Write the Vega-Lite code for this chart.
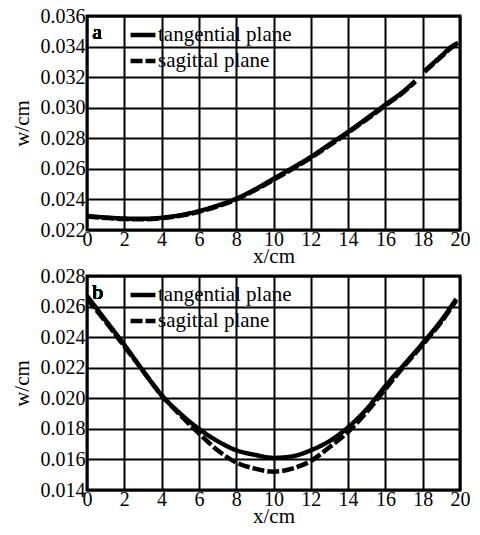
{
  "$schema": "https://vega.github.io/schema/vega-lite/v6.json",
  "background": "white",
  "padding": {"left": 9, "top": 4, "right": 3, "bottom": 3},
  "spacing": 46,
  "bounds": "flush",
  "config": {
    "font": "Liberation Serif",
    "view": {"stroke": "black", "strokeWidth": 3},
    "axis": {
      "grid": true, "gridColor": "black", "gridWidth": 2, "gridOpacity": 1,
      "domain": false, "ticks": false,
      "labelFont": "Liberation Serif", "labelFontSize": 20, "labelColor": "black", "labelPadding": 2,
      "labelOverlap": false, "labelFlush": false, "labelBound": false,
      "titleFont": "Liberation Serif", "titleFontSize": 21, "titleFontWeight": "normal", "titleColor": "black"
    },
    "axisX": {"labelPadding": -1},
    "legend": {
      "orient": "none", "legendX": 41, "legendY": 4, "padding": 0,
      "symbolType": "stroke", "symbolStrokeWidth": 4.5, "symbolSize": 620, "symbolStrokeColor": "black",
      "labelFont": "Liberation Serif", "labelFontSize": 21, "labelColor": "black", "labelOffset": 0, "labelLimit": 300,
      "rowPadding": 1, "title": null
    }
  },
  "datasets": {
    "curves": [
      {"panel": "a", "series": "tangential plane", "seg": 1, "x": 0, "w": 0.02292},
      {"panel": "a", "series": "tangential plane", "seg": 1, "x": 1, "w": 0.02282},
      {"panel": "a", "series": "tangential plane", "seg": 1, "x": 2, "w": 0.02275},
      {"panel": "a", "series": "tangential plane", "seg": 1, "x": 3, "w": 0.02273},
      {"panel": "a", "series": "tangential plane", "seg": 1, "x": 4, "w": 0.02280},
      {"panel": "a", "series": "tangential plane", "seg": 1, "x": 5, "w": 0.02297},
      {"panel": "a", "series": "tangential plane", "seg": 1, "x": 6, "w": 0.02324},
      {"panel": "a", "series": "tangential plane", "seg": 1, "x": 7, "w": 0.02360},
      {"panel": "a", "series": "tangential plane", "seg": 1, "x": 8, "w": 0.02405},
      {"panel": "a", "series": "tangential plane", "seg": 1, "x": 9, "w": 0.02465},
      {"panel": "a", "series": "tangential plane", "seg": 1, "x": 10, "w": 0.02535},
      {"panel": "a", "series": "tangential plane", "seg": 1, "x": 11, "w": 0.02605},
      {"panel": "a", "series": "tangential plane", "seg": 1, "x": 12, "w": 0.02678},
      {"panel": "a", "series": "tangential plane", "seg": 1, "x": 13, "w": 0.02760},
      {"panel": "a", "series": "tangential plane", "seg": 1, "x": 14, "w": 0.02842},
      {"panel": "a", "series": "tangential plane", "seg": 1, "x": 15, "w": 0.02930},
      {"panel": "a", "series": "tangential plane", "seg": 1, "x": 16, "w": 0.03020},
      {"panel": "a", "series": "tangential plane", "seg": 1, "x": 17, "w": 0.03110},
      {"panel": "a", "series": "tangential plane", "seg": 1, "x": 17.6, "w": 0.03175},
      {"panel": "a", "series": "tangential plane", "seg": 2, "x": 18.1, "w": 0.03240},
      {"panel": "a", "series": "tangential plane", "seg": 2, "x": 18.6, "w": 0.03295},
      {"panel": "a", "series": "tangential plane", "seg": 2, "x": 19.1, "w": 0.03350},
      {"panel": "a", "series": "tangential plane", "seg": 2, "x": 19.5, "w": 0.03395},
      {"panel": "a", "series": "tangential plane", "seg": 2, "x": 19.9, "w": 0.03425},
      {"panel": "a", "series": "sagittal plane", "seg": 1, "x": 0, "w": 0.02288},
      {"panel": "a", "series": "sagittal plane", "seg": 1, "x": 1, "w": 0.02279},
      {"panel": "a", "series": "sagittal plane", "seg": 1, "x": 2, "w": 0.02272},
      {"panel": "a", "series": "sagittal plane", "seg": 1, "x": 3, "w": 0.02270},
      {"panel": "a", "series": "sagittal plane", "seg": 1, "x": 4, "w": 0.02277},
      {"panel": "a", "series": "sagittal plane", "seg": 1, "x": 5, "w": 0.02293},
      {"panel": "a", "series": "sagittal plane", "seg": 1, "x": 6, "w": 0.02319},
      {"panel": "a", "series": "sagittal plane", "seg": 1, "x": 7, "w": 0.02355},
      {"panel": "a", "series": "sagittal plane", "seg": 1, "x": 8, "w": 0.02400},
      {"panel": "a", "series": "sagittal plane", "seg": 1, "x": 9, "w": 0.02460},
      {"panel": "a", "series": "sagittal plane", "seg": 1, "x": 10, "w": 0.02528},
      {"panel": "a", "series": "sagittal plane", "seg": 1, "x": 11, "w": 0.02598},
      {"panel": "a", "series": "sagittal plane", "seg": 1, "x": 12, "w": 0.02672},
      {"panel": "a", "series": "sagittal plane", "seg": 1, "x": 13, "w": 0.02753},
      {"panel": "a", "series": "sagittal plane", "seg": 1, "x": 14, "w": 0.02836},
      {"panel": "a", "series": "sagittal plane", "seg": 1, "x": 15, "w": 0.02924},
      {"panel": "a", "series": "sagittal plane", "seg": 1, "x": 16, "w": 0.03014},
      {"panel": "a", "series": "sagittal plane", "seg": 1, "x": 17, "w": 0.03105},
      {"panel": "a", "series": "sagittal plane", "seg": 1, "x": 17.6, "w": 0.03170},
      {"panel": "a", "series": "sagittal plane", "seg": 2, "x": 18.1, "w": 0.03235},
      {"panel": "a", "series": "sagittal plane", "seg": 2, "x": 18.6, "w": 0.03290},
      {"panel": "a", "series": "sagittal plane", "seg": 2, "x": 19.1, "w": 0.03345},
      {"panel": "a", "series": "sagittal plane", "seg": 2, "x": 19.5, "w": 0.03390},
      {"panel": "a", "series": "sagittal plane", "seg": 2, "x": 19.9, "w": 0.03420},
      {"panel": "b", "series": "tangential plane", "seg": 1, "x": 0, "w": 0.0267},
      {"panel": "b", "series": "tangential plane", "seg": 1, "x": 1, "w": 0.0251},
      {"panel": "b", "series": "tangential plane", "seg": 1, "x": 2, "w": 0.0235},
      {"panel": "b", "series": "tangential plane", "seg": 1, "x": 3, "w": 0.0218},
      {"panel": "b", "series": "tangential plane", "seg": 1, "x": 4, "w": 0.0202},
      {"panel": "b", "series": "tangential plane", "seg": 1, "x": 5, "w": 0.0190},
      {"panel": "b", "series": "tangential plane", "seg": 1, "x": 6, "w": 0.0180},
      {"panel": "b", "series": "tangential plane", "seg": 1, "x": 7, "w": 0.0172},
      {"panel": "b", "series": "tangential plane", "seg": 1, "x": 8, "w": 0.0166},
      {"panel": "b", "series": "tangential plane", "seg": 1, "x": 9, "w": 0.0163},
      {"panel": "b", "series": "tangential plane", "seg": 1, "x": 10, "w": 0.0161},
      {"panel": "b", "series": "tangential plane", "seg": 1, "x": 11, "w": 0.0162},
      {"panel": "b", "series": "tangential plane", "seg": 1, "x": 12, "w": 0.0166},
      {"panel": "b", "series": "tangential plane", "seg": 1, "x": 13, "w": 0.0172},
      {"panel": "b", "series": "tangential plane", "seg": 1, "x": 14, "w": 0.0181},
      {"panel": "b", "series": "tangential plane", "seg": 1, "x": 15, "w": 0.0193},
      {"panel": "b", "series": "tangential plane", "seg": 1, "x": 16, "w": 0.0208},
      {"panel": "b", "series": "tangential plane", "seg": 1, "x": 17, "w": 0.0222},
      {"panel": "b", "series": "tangential plane", "seg": 1, "x": 18, "w": 0.0236},
      {"panel": "b", "series": "tangential plane", "seg": 1, "x": 19, "w": 0.0251},
      {"panel": "b", "series": "tangential plane", "seg": 1, "x": 19.8, "w": 0.0265},
      {"panel": "b", "series": "sagittal plane", "seg": 1, "x": 0, "w": 0.0265},
      {"panel": "b", "series": "sagittal plane", "seg": 1, "x": 1, "w": 0.0250},
      {"panel": "b", "series": "sagittal plane", "seg": 1, "x": 2, "w": 0.0234},
      {"panel": "b", "series": "sagittal plane", "seg": 1, "x": 3, "w": 0.0218},
      {"panel": "b", "series": "sagittal plane", "seg": 1, "x": 4, "w": 0.0202},
      {"panel": "b", "series": "sagittal plane", "seg": 1, "x": 5, "w": 0.0189},
      {"panel": "b", "series": "sagittal plane", "seg": 1, "x": 6, "w": 0.0177},
      {"panel": "b", "series": "sagittal plane", "seg": 1, "x": 7, "w": 0.0166},
      {"panel": "b", "series": "sagittal plane", "seg": 1, "x": 8, "w": 0.0158},
      {"panel": "b", "series": "sagittal plane", "seg": 1, "x": 9, "w": 0.0154},
      {"panel": "b", "series": "sagittal plane", "seg": 1, "x": 10, "w": 0.0152},
      {"panel": "b", "series": "sagittal plane", "seg": 1, "x": 11, "w": 0.0154},
      {"panel": "b", "series": "sagittal plane", "seg": 1, "x": 12, "w": 0.0159},
      {"panel": "b", "series": "sagittal plane", "seg": 1, "x": 13, "w": 0.0168},
      {"panel": "b", "series": "sagittal plane", "seg": 1, "x": 14, "w": 0.0178},
      {"panel": "b", "series": "sagittal plane", "seg": 1, "x": 15, "w": 0.0191},
      {"panel": "b", "series": "sagittal plane", "seg": 1, "x": 16, "w": 0.0206},
      {"panel": "b", "series": "sagittal plane", "seg": 1, "x": 17, "w": 0.0221},
      {"panel": "b", "series": "sagittal plane", "seg": 1, "x": 18, "w": 0.0235},
      {"panel": "b", "series": "sagittal plane", "seg": 1, "x": 19, "w": 0.0250},
      {"panel": "b", "series": "sagittal plane", "seg": 1, "x": 19.8, "w": 0.0264}
    ]
  },
  "vconcat": [
    {
      "width": 373, "height": 214,
      "data": {"name": "curves"},
      "transform": [{"filter": "datum.panel === 'a'"}],
      "encoding": {
        "x": {"type": "quantitative", "scale": {"domain": [0, 20], "nice": false}, "axis": {"values": [0,2,4,6,8,10,12,14,16,18,20], "tickCount": 30, "format": "d", "title": "x/cm", "titlePadding": -4}},
        "y": {"type": "quantitative", "scale": {"domain": [0.022, 0.036], "nice": false, "zero": false}, "axis": {"values": [0.022,0.024,0.026,0.028,0.03,0.032,0.034,0.036], "tickCount": 20, "format": ".3f", "title": "w/cm", "titlePadding": 8}}
      },
      "layer": [
        {
          "mark": {"type": "line", "stroke": "black", "strokeWidth": 4.5, "interpolate": "monotone", "clip": true},
          "encoding": {
            "x": {"field": "x", "type": "quantitative"},
            "y": {"field": "w", "type": "quantitative"},
            "detail": {"field": "seg"},
            "strokeDash": {"field": "series", "type": "nominal", "scale": {"domain": ["tangential plane", "sagittal plane"], "range": [[1, 0], [12, 3]]}}
          }
        },
        {
          "mark": {"type": "text", "text": "a", "fontSize": 21, "font": "Liberation Serif", "fill": "black", "align": "left", "baseline": "middle"},
          "encoding": {"x": {"datum": 0.3, "type": "quantitative"}, "y": {"datum": 0.0349, "type": "quantitative"}}
        }
      ]
    },
    {
      "width": 373, "height": 214,
      "data": {"name": "curves"},
      "transform": [{"filter": "datum.panel === 'b'"}],
      "encoding": {
        "x": {"type": "quantitative", "scale": {"domain": [0, 20], "nice": false}, "axis": {"values": [0,2,4,6,8,10,12,14,16,18,20], "tickCount": 30, "format": "d", "title": "x/cm", "titlePadding": -4}},
        "y": {"type": "quantitative", "scale": {"domain": [0.014, 0.028], "nice": false, "zero": false}, "axis": {"values": [0.014,0.016,0.018,0.02,0.022,0.024,0.026,0.028], "tickCount": 20, "format": ".3f", "title": "w/cm", "titlePadding": 8}}
      },
      "layer": [
        {
          "mark": {"type": "line", "stroke": "black", "strokeWidth": 4.5, "interpolate": "monotone", "clip": true},
          "encoding": {
            "x": {"field": "x", "type": "quantitative"},
            "y": {"field": "w", "type": "quantitative"},
            "detail": {"field": "seg"},
            "strokeDash": {"field": "series", "type": "nominal", "scale": {"domain": ["tangential plane", "sagittal plane"], "range": [[1, 0], [12, 3]]}}
          }
        },
        {
          "mark": {"type": "text", "text": "b", "fontSize": 21, "font": "Liberation Serif", "fill": "black", "align": "left", "baseline": "middle"},
          "encoding": {"x": {"datum": 0.3, "type": "quantitative"}, "y": {"datum": 0.0269, "type": "quantitative"}}
        }
      ]
    }
  ],
  "resolve": {"scale": {"strokeDash": "independent"}, "legend": {"strokeDash": "independent"}}
}
